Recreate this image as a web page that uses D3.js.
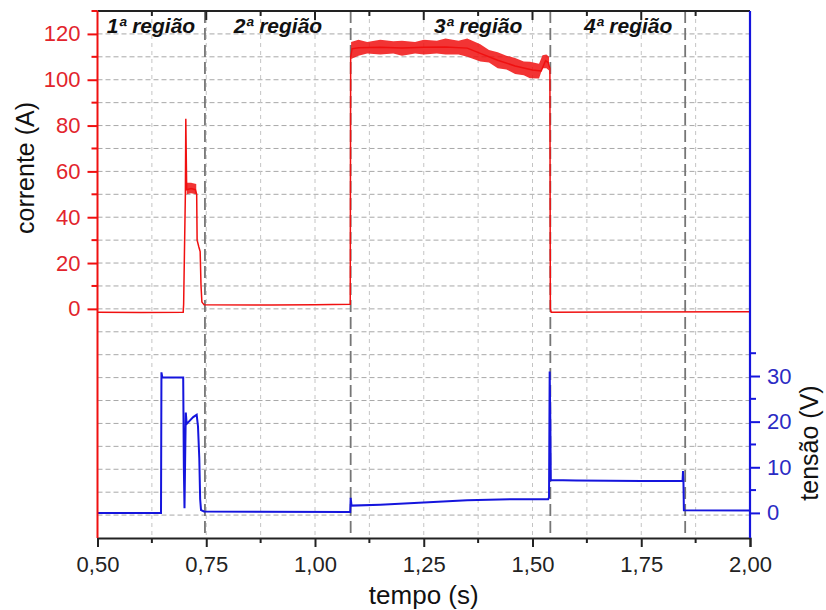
<!DOCTYPE html>
<html>
<head>
<meta charset="utf-8">
<script src="https://cdn.jsdelivr.net/npm/d3@7"></script>
<style>
  html, body { margin: 0; padding: 0; background: #fff; }
  svg { display: block; font-family: "Liberation Sans", Arial, sans-serif; }
</style>
</head>
<body>
<div id="chart"></div>
<script>
// time axis ticks (s)
var timeTicks = [0.50, 0.75, 1.00, 1.25, 1.50, 1.75, 2.00];
var timeMinorTicks = [0.625, 0.875, 1.125, 1.375, 1.625, 1.875];

// current axis (A)
var currentTicks = [0, 20, 40, 60, 80, 100, 120];
var currentMinorTicks = [10, 30, 50, 70, 90, 110, 130];
var gridLevels = [-90, -80, -70, -60, -50, -40, -30, -20, -10, 0, 10, 20, 30, 40, 50, 60, 70, 80, 90, 100, 110, 120];

// voltage axis (V)
var voltageTicks = [0, 10, 20, 30];
var voltageMinorTicks = [5, 15, 25, 35];

// region borders (s) and labels
var regionBorders = [0.747, 1.082, 1.541, 1.851];
var regionLabels = ["1ª região", "2ª região", "3ª região", "4ª região"];
var regionLabelTimes = [0.623, 0.915, 1.375, 1.72];

// current trace [t, A]
var currentData = [
  [0.500, -1.5], [0.600, -1.6], [0.697, -1.5], [0.698, 2], [0.702, 50], [0.703, 83],
  [0.7045, 60], [0.705, 52], [0.715, 52.5], [0.725, 52], [0.728, 50], [0.729, 30],
  [0.733, 27], [0.736, 25], [0.738, 10], [0.740, 3], [0.742, 2.5], [0.745, 1.8],
  [0.900, 1.7], [1.000, 1.8], [1.081, 2], [1.082, 110], [1.085, 113.5],
  [1.100, 114], [1.150, 114.2], [1.200, 113.8], [1.250, 114.2], [1.300, 114.3],
  [1.350, 113.8], [1.380, 111.5], [1.420, 108.5], [1.460, 106], [1.500, 104.3],
  [1.520, 103.8], [1.530, 108.3], [1.536, 107.5], [1.540, 105], [1.541, 0],
  [1.543, -1.5], [1.700, -1.4], [2.000, -1.3]
];
// noise envelope of the current trace [t, low, high]
var currentBand = [
  [0.705, 50, 55], [0.715, 50.5, 55], [0.727, 50, 54.5],
  [1.083, 109, 116.5], [1.100, 110.5, 117.5], [1.120, 111.5, 116.5], [1.150, 111, 117.5],
  [1.180, 111.5, 116.8], [1.200, 110.5, 117], [1.230, 111.5, 116.5], [1.250, 111, 117.5],
  [1.280, 111.5, 117], [1.300, 111, 118], [1.330, 111, 117], [1.350, 110, 118],
  [1.380, 108, 115.5], [1.400, 107.5, 113], [1.420, 105, 112], [1.440, 104.5, 110.5],
  [1.460, 102.5, 109.5], [1.480, 102, 108], [1.494, 100.6, 107.8], [1.515, 100.5, 107],
  [1.523, 105, 110.7], [1.532, 105, 111], [1.538, 104, 110]
];

// voltage trace [t, V]
var voltageData = [
  [0.500, 0], [0.646, 0], [0.647, 30.8], [0.649, 29.7], [0.697, 29.7], [0.6985, 10],
  [0.700, 1], [0.7015, 12], [0.703, 22], [0.705, 19.5], [0.710, 20], [0.720, 21],
  [0.728, 21.5], [0.731, 19], [0.734, 12], [0.736, 3], [0.738, 0.6], [0.745, 0.3],
  [1.081, 0.2], [1.082, 3.3], [1.084, 1.6], [1.150, 1.8], [1.250, 2.3], [1.350, 2.8],
  [1.450, 3.0], [1.536, 3.0], [1.538, 3.4], [1.5395, 31], [1.541, 20], [1.542, 7.2],
  [1.600, 7.1], [1.750, 7.0], [1.845, 7.0], [1.846, 9.2], [1.847, 7], [1.848, 0.6],
  [2.000, 0.5]
];

var width = 826, height = 610;
var margin = {top: 11, right: 76, bottom: 72, left: 97.5};

var svg = d3.select("#chart").append("svg")
    .attr("width", width)
    .attr("height", height);

var x = d3.scaleLinear().domain([0.5, 2.0]).range([margin.left, width - margin.right]);
var yI = d3.scaleLinear().domain([-100, 130]).range([height - margin.bottom, margin.top]);
var yV = d3.scaleLinear().domain([-5.5, 110]).range([height - margin.bottom, margin.top]);

var red = "#f01010", blue = "#1515dd";
var redText = "#e2242c", blueText = "#2b2bc4";
var fmt = d3.formatLocale({decimal: ",", thousands: ".", grouping: [3], currency: ["", ""]}).format(".2f");

var x0 = margin.left, x1 = width - margin.right;
var y0 = margin.top, y1 = height - margin.bottom;

// grid
svg.append("g").selectAll("line").data(gridLevels).enter().append("line")
    .attr("x1", x0).attr("x2", x1)
    .attr("y1", d => yI(d)).attr("y2", d => yI(d))
    .attr("stroke", "#a8a8a8").attr("stroke-width", 1).attr("stroke-dasharray", "5,3");

svg.append("g").selectAll("line").data(timeTicks.slice(1, -1).concat(timeMinorTicks)).enter().append("line")
    .attr("x1", d => x(d)).attr("x2", d => x(d))
    .attr("y1", y0).attr("y2", y1)
    .attr("stroke", "#c4c4c4").attr("stroke-width", 1).attr("stroke-dasharray", "4,4");

// region borders
svg.append("g").selectAll("line").data(regionBorders).enter().append("line")
    .attr("x1", d => x(d)).attr("x2", d => x(d))
    .attr("y1", y0).attr("y2", y1)
    .attr("stroke", "#767676").attr("stroke-width", 1.8).attr("stroke-dasharray", "12,5");

// traces
var lineI = d3.line().x(d => x(d[0])).y(d => yI(d[1]));
var areaI = d3.area().x(d => x(d[0])).y0(d => yI(d[1])).y1(d => yI(d[2]));
var lineV = d3.line().x(d => x(d[0])).y(d => yV(d[1]));

var bandA = currentBand.filter(d => d[0] < 1);
var bandB = currentBand.filter(d => d[0] > 1);
[bandA, bandB].forEach(function(b) {
    svg.append("path").attr("d", areaI(b)).attr("fill", red).attr("opacity", 0.85);
});
svg.append("path").attr("d", lineI(currentData))
    .attr("fill", "none").attr("stroke", red).attr("stroke-width", 1.5);

svg.append("path").attr("d", lineV(voltageData))
    .attr("fill", "none").attr("stroke", blue).attr("stroke-width", 2);

// frame
svg.append("line").attr("x1", x0).attr("x2", x1).attr("y1", y0).attr("y2", y0)
    .attr("stroke", "#222").attr("stroke-width", 2);

// bottom axis
var xAxis = svg.append("g").attr("transform", "translate(0," + y1 + ")")
    .call(d3.axisBottom(x).tickValues(timeTicks).tickFormat(fmt).tickSize(9).tickPadding(9));
xAxis.select(".domain").attr("stroke", "#222").attr("stroke-width", 2);
xAxis.selectAll(".tick line").attr("stroke", "#222").attr("stroke-width", 2);
xAxis.selectAll("text").attr("font-size", 22).attr("fill", "#222");
svg.append("g").selectAll("line").data(timeMinorTicks).enter().append("line")
    .attr("x1", d => x(d)).attr("x2", d => x(d)).attr("y1", y1).attr("y2", y1 + 5)
    .attr("stroke", "#222").attr("stroke-width", 2);

// top ticks (inside)
svg.append("g").selectAll("line").data(timeTicks.slice(1, -1)).enter().append("line")
    .attr("x1", d => x(d)).attr("x2", d => x(d)).attr("y1", y0).attr("y2", y0 + 9)
    .attr("stroke", "#222").attr("stroke-width", 2);
svg.append("g").selectAll("line").data(timeMinorTicks).enter().append("line")
    .attr("x1", d => x(d)).attr("x2", d => x(d)).attr("y1", y0).attr("y2", y0 + 5)
    .attr("stroke", "#222").attr("stroke-width", 2);

// left current axis
svg.append("line").attr("x1", x0).attr("x2", x0).attr("y1", y0).attr("y2", y1)
    .attr("stroke", red).attr("stroke-width", 2);
var yAxisL = svg.append("g").attr("transform", "translate(" + x0 + ",0)")
    .call(d3.axisLeft(yI).tickValues(currentTicks).tickSize(10).tickPadding(7));
yAxisL.select(".domain").remove();
yAxisL.selectAll(".tick line").attr("stroke", red).attr("stroke-width", 2);
yAxisL.selectAll("text").attr("font-size", 22).attr("fill", redText);
svg.append("g").selectAll("line").data(currentMinorTicks).enter().append("line")
    .attr("x1", x0 - 6).attr("x2", x0).attr("y1", d => yI(d)).attr("y2", d => yI(d))
    .attr("stroke", red).attr("stroke-width", 2);

// right voltage axis
svg.append("line").attr("x1", x1).attr("x2", x1).attr("y1", y0).attr("y2", y1)
    .attr("stroke", blue).attr("stroke-width", 2.2);
var yAxisR = svg.append("g").attr("transform", "translate(" + x1 + ",0)")
    .call(d3.axisRight(yV).tickValues(voltageTicks).tickSize(10).tickPadding(7));
yAxisR.select(".domain").remove();
yAxisR.selectAll(".tick line").attr("stroke", blue).attr("stroke-width", 2);
yAxisR.selectAll("text").attr("font-size", 22).attr("fill", blueText);
svg.append("g").selectAll("line").data(voltageMinorTicks).enter().append("line")
    .attr("x1", x1).attr("x2", x1 + 6).attr("y1", d => yV(d)).attr("y2", d => yV(d))
    .attr("stroke", blue).attr("stroke-width", 2);

// titles
svg.append("text")
    .attr("transform", "translate(34," + 168 + ") rotate(-90)")
    .attr("text-anchor", "middle").attr("font-size", 25).attr("fill", "#111")
    .text("corrente (A)");

svg.append("text")
    .attr("transform", "translate(818," + 443 + ") rotate(-90)")
    .attr("text-anchor", "middle").attr("font-size", 25).attr("fill", "#111")
    .text("tensão (V)");

svg.append("text")
    .attr("x", x(1.25)).attr("y", 604)
    .attr("text-anchor", "middle").attr("font-size", 26).attr("fill", "#111")
    .text("tempo (s)");

// region labels
svg.append("g").selectAll("text").data(regionLabels).enter().append("text")
    .attr("x", (d, i) => x(regionLabelTimes[i])).attr("y", 33)
    .attr("text-anchor", "middle")
    .attr("font-size", 21).attr("font-weight", "bold").attr("font-style", "italic")
    .attr("fill", "#111")
    .text(d => d);
</script>
</body>
</html>
